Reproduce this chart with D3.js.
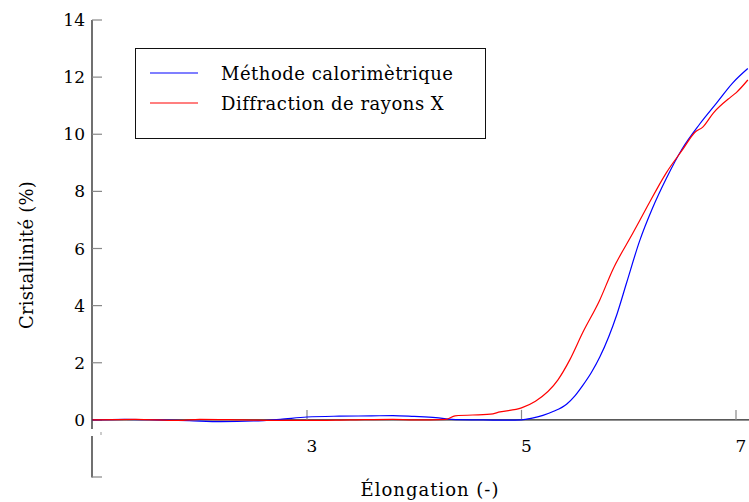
<!DOCTYPE html>
<html><head><meta charset="utf-8">
<script src="https://cdn.jsdelivr.net/npm/d3@7"></script>
<style>body{margin:0;background:#fff}svg{display:block}text{font-family:"DejaVu Serif","Liberation Serif",serif;fill:#000}</style>
</head><body><svg id="c" width="749" height="502"></svg>
<script>
const blueX = [1.0,1.3,1.6,1.9,2.2,2.5,2.75,3.0,3.3,3.6,3.8,4.0,4.2,4.35,4.6,4.8,5.0,5.1,5.2,5.3,5.42,5.5,5.57,5.65,5.73,5.89,5.98,6.10,6.22,6.35,6.50,6.66,6.82,6.97,7.11];
const blueY = [0.0,0.02,0.0,-0.03,-0.06,-0.04,0.02,0.1,0.13,0.14,0.15,0.12,0.08,0.02,0.0,-0.01,0.0,0.06,0.16,0.3,0.55,0.85,1.2,1.65,2.2,3.7,4.8,6.25,7.4,8.45,9.5,10.35,11.1,11.8,12.3];
const redX = [1.0,1.4,1.8,2.0,2.4,2.8,3.0,3.4,3.8,4.0,4.3,4.38,4.71,4.8,5.0,5.13,5.34,5.45,5.57,5.73,5.85,6.04,6.17,6.35,6.50,6.62,6.69,6.79,6.95,7.0,7.11];
const redY = [0.0,0.02,-0.02,0.02,0.0,-0.02,-0.02,0.0,0.02,0.0,0.02,0.14,0.2,0.28,0.42,0.65,1.4,2.1,3.05,4.2,5.25,6.55,7.45,8.65,9.45,10.08,10.25,10.75,11.3,11.45,11.9];
const yTicks = [-2,0,2,4,6,8,10,12,14];
const yLabels = ["","0","2","4","6","8","10","12","14"];
const xTicks = [3,5,7];
const xLabels = ["3","5","7"];
const seriesNames = ["Méthode calorimètrique","Diffraction de rayons X"];
const colors = ["#0000ff","#ff0000"];

const svg = d3.select("#c");
const x = d3.scaleLinear().domain([1,7]).range([92.5,736]);
const y = d3.scaleLinear().domain([-2,14]).range([477,20]);

svg.append("defs").append("clipPath").attr("id","clip").append("rect")
  .attr("x",92).attr("y",0).attr("width",657).attr("height",480);

// y axis
const ya = svg.append("g");
ya.append("line").attr("x1",92).attr("x2",92).attr("y1",y(14)).attr("y2",429).attr("stroke","#111").attr("stroke-width",1.2);
ya.append("line").attr("x1",92).attr("x2",92).attr("y1",436).attr("y2",y(-2)+0.5).attr("stroke","#111").attr("stroke-width",1.2);
yTicks.forEach((t,i)=>{
  ya.append("line").attr("x1",92).attr("x2",102).attr("y1",y(t)).attr("y2",y(t)).attr("stroke","#888").attr("stroke-width",1.2);
  if(yLabels[i]) ya.append("text").attr("x",85).attr("y",y(t)+6).attr("text-anchor","end").attr("font-size",17).text(yLabels[i]);
});
svg.append("line").attr("x1",101).attr("x2",101).attr("y1",432).attr("y2",435).attr("stroke","#999").attr("stroke-width",1);

// x axis
svg.append("line").attr("x1",92).attr("x2",749).attr("y1",y(0)).attr("y2",y(0)).attr("stroke","#222").attr("stroke-width",1.2);
xTicks.forEach((t,i)=>{
  svg.append("line").attr("x1",x(t)).attr("x2",x(t)).attr("y1",y(0)-10).attr("y2",y(0)).attr("stroke","#888").attr("stroke-width",1.2);
  svg.append("text").attr("x",x(t)+5).attr("y",452).attr("text-anchor","middle").attr("font-size",17).text(xLabels[i]);
});

// curves
const line = d3.line().x(d=>x(d[0])).y(d=>y(d[1])).curve(d3.curveMonotoneX);
const g = svg.append("g").attr("clip-path","url(#clip)");
[[blueX,blueY],[redX,redY]].forEach((s,i)=>{
  g.append("path").datum(s[0].map((v,j)=>[v,s[1][j]])).attr("d",line)
    .attr("fill","none").attr("stroke",colors[i]).attr("stroke-width",1.2);
});

// legend
svg.append("rect").attr("x",135.5).attr("y",48.5).attr("width",350).attr("height",90).attr("fill","#fff").attr("stroke","#111").attr("stroke-width",1);
seriesNames.forEach((n,i)=>{
  const yy = 73 + i*30;
  svg.append("line").attr("x1",150).attr("x2",198).attr("y1",yy).attr("y2",yy).attr("stroke",colors[i]).attr("stroke-width",1.2);
  svg.append("text").attr("x",221).attr("y",yy+7).attr("font-size",18).attr("letter-spacing",0.5).text(n);
});

// axis titles
svg.append("text").attr("x",430).attr("y",496).attr("text-anchor","middle").attr("font-size",18).attr("letter-spacing",1).text("Élongation (-)");
svg.append("text").attr("transform","translate(33,255) rotate(-90)").attr("text-anchor","middle").attr("font-size",18).attr("letter-spacing",0.2).text("Cristallinité (%)");
</script></body></html>
